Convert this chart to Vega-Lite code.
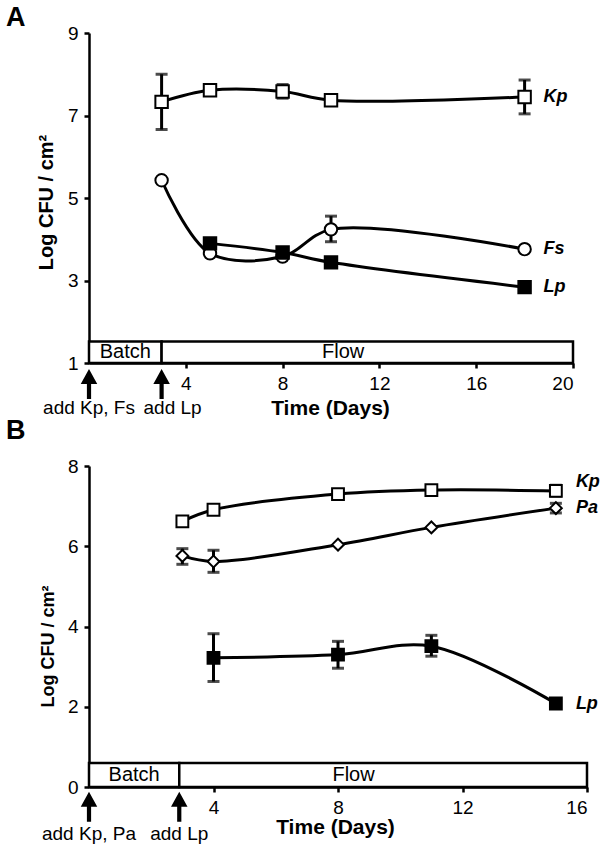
{
  "$schema": "https://vega.github.io/schema/vega-lite/v6.json",
  "background": "white",
  "padding": {"left": 6, "top": 4, "right": 0, "bottom": 0},
  "bounds": "flush",
  "spacing": 103,
  "resolve": {"scale": {"shape": "independent", "fill": "independent", "size": "independent"}},
  "config": {
    "view": {"stroke": null},
    "font": "Liberation Sans",
    "axis": {
      "grid": false,
      "domainColor": "black",
      "domainWidth": 2.5,
      "tickColor": "black",
      "tickWidth": 2.5,
      "tickSize": 5,
      "labelColor": "black",
      "labelFont": "Liberation Sans",
      "labelFontSize": 19,
      "labelPadding": 6,
      "titleColor": "black",
      "titleFont": "Liberation Sans",
      "titleFontWeight": "bold"
    },
    "title": {"font": "Liberation Sans", "fontWeight": "bold", "fontSize": 27, "color": "black", "anchor": "start", "frame": "group"}
  },
  "vconcat": [
    {
      "width": 484,
      "height": 330,
      "title": {"text": "A", "dx": -83, "offset": -8},
      "layer": [
        {
          "data": {"values": [
            {"x0": 0, "x1": 3, "lo": 1, "hi": 1.52, "mid": 1.5, "name": "Batch"},
            {"x0": 3, "x1": 20, "lo": 1, "hi": 1.52, "mid": 10.5, "name": "Flow"}
          ]},
          "mark": {"type": "rect", "fill": "white", "stroke": "black", "strokeWidth": 2.5},
          "encoding": {
            "x": {"field": "x0", "type": "quantitative", "title": "Time (Days)", "scale": {"domain": [0, 20], "nice": false},
              "axis": {"values": [4, 8, 12, 16, 20], "titleFontSize": 21, "titleX": 241, "titleY": 45, "titleBaseline": "middle", "titleAlign": "center"}},
            "x2": {"field": "x1"},
            "y": {"field": "lo", "type": "quantitative", "title": "Log CFU / cm²", "scale": {"domain": [1, 9], "nice": false},
              "axis": {"values": [1, 3, 5, 7, 9], "titleFontSize": 20, "titleX": -43, "titleY": 169, "titleBaseline": "middle", "titleAlign": "center", "titleAngle": -90}},
            "y2": {"field": "hi"}
          }
        },
        {
          "data": {"values": [
            {"x0": 0, "x1": 3, "lo": 1, "hi": 1.52, "mid": 1.5, "name": "Batch"},
            {"x0": 3, "x1": 20, "lo": 1, "hi": 1.52, "mid": 10.5, "name": "Flow"}
          ]},
          "mark": {"type": "text", "fontSize": 20, "baseline": "middle", "dy": -11, "color": "black"},
          "encoding": {
            "x": {"field": "mid", "type": "quantitative", "title": "Time (Days)"},
            "y": {"field": "lo", "type": "quantitative", "title": "Log CFU / cm²"},
            "text": {"field": "name"}
          }
        },
        {
          "data": {"name": "a"},
          "mark": {"type": "line", "interpolate": "catmull-rom", "color": "black", "strokeWidth": 3},
          "encoding": {
            "x": {"field": "day", "type": "quantitative", "title": "Time (Days)"},
            "y": {"field": "val", "type": "quantitative", "title": "Log CFU / cm²"},
            "detail": {"field": "series"}
          }
        },
        {
          "data": {"name": "a"},
          "transform": [{"filter": "isValid(datum.lo)"}],
          "mark": {"type": "errorbar", "thickness": 3, "color": "black", "ticks": {"size": 12}},
          "encoding": {
            "x": {"field": "day", "type": "quantitative", "title": "Time (Days)"},
            "y": {"field": "lo", "type": "quantitative", "title": "Log CFU / cm²"},
            "y2": {"field": "hi"}
          }
        },
        {
          "data": {"name": "a"},
          "mark": {"type": "point", "filled": true, "stroke": "black", "strokeWidth": 2, "opacity": 1, "size": 155},
          "encoding": {
            "x": {"field": "day", "type": "quantitative", "title": "Time (Days)"},
            "y": {"field": "val", "type": "quantitative", "title": "Log CFU / cm²"},
            "shape": {"field": "series", "scale": {"domain": ["Kp", "Fs", "Lp"], "range": ["square", "circle", "square"]}, "legend": null},
            "fill": {"field": "series", "scale": {"domain": ["Kp", "Fs", "Lp"], "range": ["white", "white", "black"]}, "legend": null}
          }
        },
        {
          "data": {"name": "a"},
          "transform": [{"filter": "datum.day == 18"}],
          "mark": {"type": "text", "fontSize": 18, "fontWeight": "bold", "fontStyle": "italic", "align": "left", "baseline": "middle", "dx": 19, "color": "black"},
          "encoding": {
            "x": {"field": "day", "type": "quantitative", "title": "Time (Days)"},
            "y": {"field": "val", "type": "quantitative", "title": "Log CFU / cm²"},
            "text": {"field": "series"}
          }
        },
        {
          "data": {"values": [{"day": 0}, {"day": 3}]},
          "mark": {"type": "point", "shape": "M0,-1L0.55,0L0.14,0L0.14,1L-0.14,1L-0.14,0L-0.55,0Z", "size": 900, "filled": true, "color": "black", "opacity": 1},
          "encoding": {
            "x": {"field": "day", "type": "quantitative", "title": "Time (Days)"},
            "y": {"datum": 0.49, "type": "quantitative", "title": "Log CFU / cm²"}
          }
        },
        {
          "data": {"values": [{"day": 0, "t": "add Kp, Fs"}]},
          "mark": {"type": "text", "fontSize": 19, "baseline": "middle", "align": "center", "color": "black"},
          "encoding": {
            "x": {"field": "day", "type": "quantitative", "title": "Time (Days)"},
            "y": {"datum": -0.09, "type": "quantitative", "title": "Log CFU / cm²"},
            "text": {"field": "t"}
          }
        },
        {
          "data": {"values": [{"day": 3, "t": "add Lp"}]},
          "mark": {"type": "text", "fontSize": 19, "baseline": "middle", "align": "center", "dx": 11, "color": "black"},
          "encoding": {
            "x": {"field": "day", "type": "quantitative", "title": "Time (Days)"},
            "y": {"datum": -0.09, "type": "quantitative", "title": "Log CFU / cm²"},
            "text": {"field": "t"}
          }
        }
      ]
    },
    {
      "width": 498,
      "height": 321,
      "title": {"text": "B", "dx": -83, "offset": 12},
      "layer": [
        {
          "data": {"values": [
            {"x0": 0, "x1": 2.9, "lo": 0, "hi": 0.6, "mid": 1.45, "name": "Batch"},
            {"x0": 2.9, "x1": 16, "lo": 0, "hi": 0.6, "mid": 8.5, "name": "Flow"}
          ]},
          "mark": {"type": "rect", "fill": "white", "stroke": "black", "strokeWidth": 2.5},
          "encoding": {
            "x": {"field": "x0", "type": "quantitative", "title": "Time (Days)", "scale": {"domain": [0, 16], "nice": false},
              "axis": {"values": [4, 8, 12, 16], "titleFontSize": 21, "titleX": 246, "titleY": 40, "titleBaseline": "middle", "titleAlign": "center"}},
            "x2": {"field": "x1"},
            "y": {"field": "lo", "type": "quantitative", "title": "Log CFU / cm²", "scale": {"domain": [0, 8], "nice": false},
              "axis": {"values": [0, 2, 4, 6, 8], "titleFontSize": 18, "titleX": -41, "titleY": 180, "titleBaseline": "middle", "titleAlign": "center", "titleAngle": -90}},
            "y2": {"field": "hi"}
          }
        },
        {
          "data": {"values": [
            {"x0": 0, "x1": 2.9, "lo": 0, "hi": 0.6, "mid": 1.45, "name": "Batch"},
            {"x0": 2.9, "x1": 16, "lo": 0, "hi": 0.6, "mid": 8.5, "name": "Flow"}
          ]},
          "mark": {"type": "text", "fontSize": 20, "baseline": "middle", "dy": -12, "color": "black"},
          "encoding": {
            "x": {"field": "mid", "type": "quantitative", "title": "Time (Days)"},
            "y": {"field": "lo", "type": "quantitative", "title": "Log CFU / cm²"},
            "text": {"field": "name"}
          }
        },
        {
          "data": {"name": "b"},
          "mark": {"type": "line", "interpolate": "catmull-rom", "color": "black", "strokeWidth": 3},
          "encoding": {
            "x": {"field": "day", "type": "quantitative", "title": "Time (Days)"},
            "y": {"field": "val", "type": "quantitative", "title": "Log CFU / cm²"},
            "detail": {"field": "series"}
          }
        },
        {
          "data": {"name": "b"},
          "transform": [{"filter": "isValid(datum.lo)"}],
          "mark": {"type": "errorbar", "thickness": 3, "color": "black", "ticks": {"size": 12}},
          "encoding": {
            "x": {"field": "day", "type": "quantitative", "title": "Time (Days)"},
            "y": {"field": "lo", "type": "quantitative", "title": "Log CFU / cm²"},
            "y2": {"field": "hi"}
          }
        },
        {
          "data": {"name": "b"},
          "mark": {"type": "point", "filled": true, "stroke": "black", "strokeWidth": 2, "opacity": 1},
          "encoding": {
            "x": {"field": "day", "type": "quantitative", "title": "Time (Days)"},
            "y": {"field": "val", "type": "quantitative", "title": "Log CFU / cm²"},
            "shape": {"field": "series", "scale": {"domain": ["Kp", "Pa", "Lp"], "range": ["square", "diamond", "square"]}, "legend": null},
            "fill": {"field": "series", "scale": {"domain": ["Kp", "Pa", "Lp"], "range": ["white", "white", "black"]}, "legend": null},
            "size": {"field": "series", "scale": {"domain": ["Kp", "Pa", "Lp"], "range": [140, 140, 165]}, "legend": null}
          }
        },
        {
          "data": {"name": "b"},
          "transform": [{"filter": "datum.day == 15 && datum.series != 'Kp'"}],
          "mark": {"type": "text", "fontSize": 18, "fontWeight": "bold", "fontStyle": "italic", "align": "left", "baseline": "middle", "dx": 20, "color": "black"},
          "encoding": {
            "x": {"field": "day", "type": "quantitative", "title": "Time (Days)"},
            "y": {"field": "val", "type": "quantitative", "title": "Log CFU / cm²"},
            "text": {"field": "series"}
          }
        },
        {
          "data": {"name": "b"},
          "transform": [{"filter": "datum.day == 15 && datum.series == 'Kp'"}],
          "mark": {"type": "text", "fontSize": 18, "fontWeight": "bold", "fontStyle": "italic", "align": "left", "baseline": "middle", "dx": 20, "dy": -9, "color": "black"},
          "encoding": {
            "x": {"field": "day", "type": "quantitative", "title": "Time (Days)"},
            "y": {"field": "val", "type": "quantitative", "title": "Log CFU / cm²"},
            "text": {"field": "series"}
          }
        },
        {
          "data": {"values": [{"day": 0}, {"day": 2.9}]},
          "mark": {"type": "point", "shape": "M0,-1L0.55,0L0.14,0L0.14,1L-0.14,1L-0.14,0L-0.55,0Z", "size": 900, "filled": true, "color": "black", "opacity": 1},
          "encoding": {
            "x": {"field": "day", "type": "quantitative", "title": "Time (Days)"},
            "y": {"datum": -0.49, "type": "quantitative", "title": "Log CFU / cm²"}
          }
        },
        {
          "data": {"values": [{"day": 0, "t": "add Kp, Pa"}, {"day": 2.9, "t": "add Lp"}]},
          "mark": {"type": "text", "fontSize": 19, "baseline": "middle", "align": "center", "color": "black"},
          "encoding": {
            "x": {"field": "day", "type": "quantitative", "title": "Time (Days)"},
            "y": {"datum": -1.17, "type": "quantitative", "title": "Log CFU / cm²"},
            "text": {"field": "t"}
          }
        }
      ]
    }
  ],
  "datasets": {
    "a": [
      {"series": "Kp", "day": 3, "val": 7.33, "lo": 6.66, "hi": 8.0},
      {"series": "Kp", "day": 5, "val": 7.61},
      {"series": "Kp", "day": 8, "val": 7.58, "lo": 7.42, "hi": 7.75},
      {"series": "Kp", "day": 10, "val": 7.37},
      {"series": "Kp", "day": 18, "val": 7.45, "lo": 7.04, "hi": 7.86},
      {"series": "Fs", "day": 3, "val": 5.43},
      {"series": "Fs", "day": 5, "val": 3.66},
      {"series": "Fs", "day": 8, "val": 3.58},
      {"series": "Fs", "day": 10, "val": 4.24, "lo": 3.94, "hi": 4.56},
      {"series": "Fs", "day": 18, "val": 3.76},
      {"series": "Lp", "day": 5, "val": 3.9},
      {"series": "Lp", "day": 8, "val": 3.68},
      {"series": "Lp", "day": 10, "val": 3.44},
      {"series": "Lp", "day": 18, "val": 2.84}
    ],
    "b": [
      {"series": "Kp", "day": 3, "val": 6.62},
      {"series": "Kp", "day": 4, "val": 6.91},
      {"series": "Kp", "day": 8, "val": 7.3},
      {"series": "Kp", "day": 11, "val": 7.4},
      {"series": "Kp", "day": 15, "val": 7.38, "lo": 7.25, "hi": 7.52},
      {"series": "Pa", "day": 3, "val": 5.76, "lo": 5.55, "hi": 5.94},
      {"series": "Pa", "day": 4, "val": 5.62, "lo": 5.35, "hi": 5.9},
      {"series": "Pa", "day": 8, "val": 6.04},
      {"series": "Pa", "day": 11, "val": 6.47},
      {"series": "Pa", "day": 15, "val": 6.95, "lo": 6.83, "hi": 7.07},
      {"series": "Lp", "day": 4, "val": 3.22, "lo": 2.63, "hi": 3.82},
      {"series": "Lp", "day": 8, "val": 3.3, "lo": 2.96, "hi": 3.63},
      {"series": "Lp", "day": 11, "val": 3.51, "lo": 3.26, "hi": 3.78},
      {"series": "Lp", "day": 15, "val": 2.08, "lo": 1.97, "hi": 2.2}
    ]
  }
}
